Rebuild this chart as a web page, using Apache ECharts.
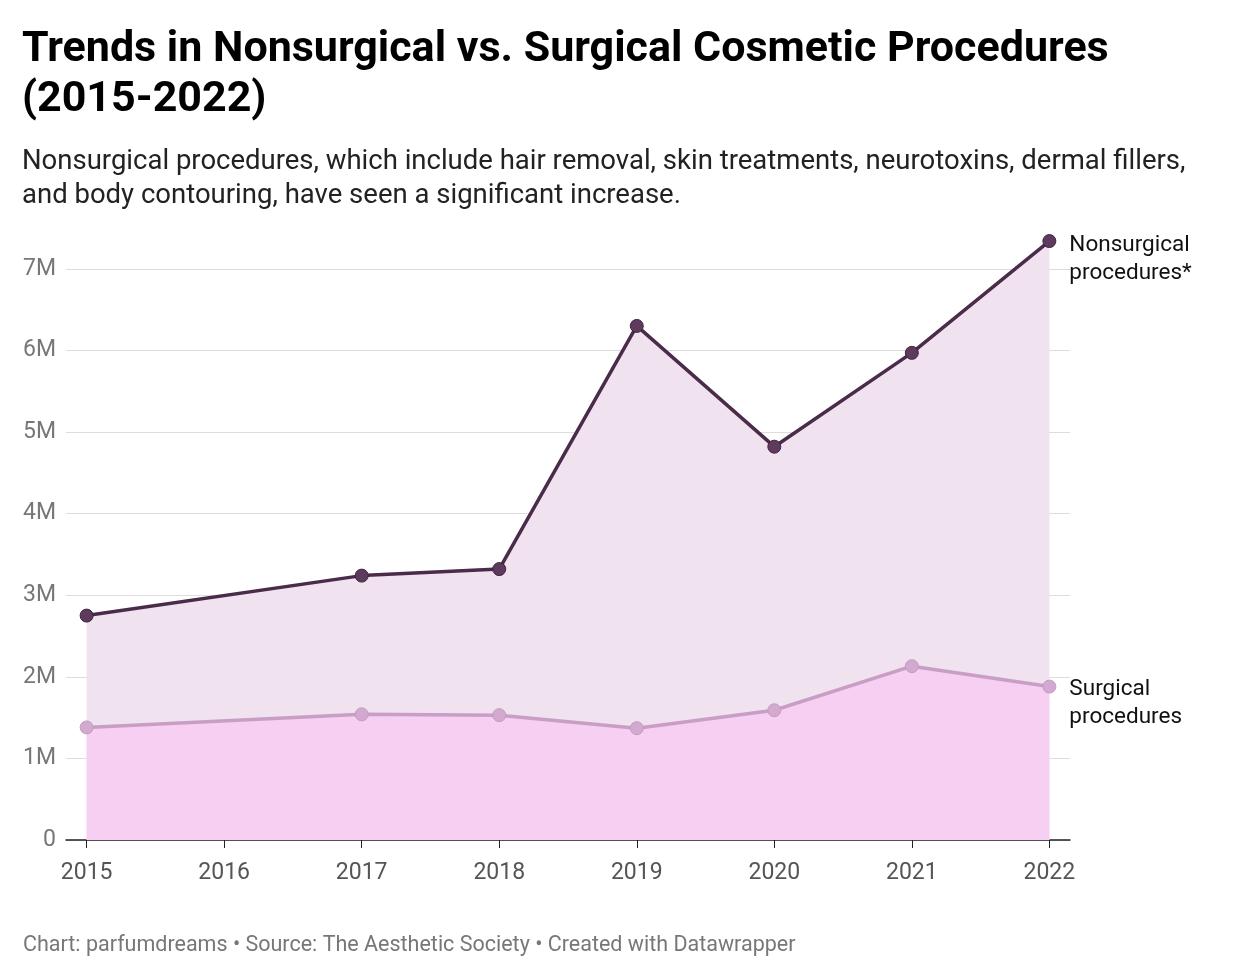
<!DOCTYPE html>
<html><head><meta charset="utf-8">
<script src="https://cdn.jsdelivr.net/npm/echarts@6/dist/echarts.min.js"></script>
<style>body{margin:0;background:#fff}#c{width:1240px;height:976px}</style>
</head><body><div id="c"></div>
<script>
const years = [2015, 2017, 2018, 2019, 2020, 2021, 2022];
const nonsurgical = [2.75, 3.24, 3.32, 6.30, 4.82, 5.97, 7.34];
const surgical = [1.38, 1.54, 1.53, 1.37, 1.59, 2.13, 1.88];
const yearTicks = [2015, 2016, 2017, 2018, 2019, 2020, 2021, 2022];

const F = 'Roboto, "Noto Sans", sans-serif';
const chart = echarts.init(document.getElementById('c'));
const pts = v => years.map((y, i) => [y, v[i] * 1e6]);
chart.setOption({
  animation: false,
  textStyle: { fontFamily: F },
  title: [
    { text: 'Trends in Nonsurgical vs. Surgical Cosmetic Procedures\n(2015-2022)', left: 17, top: 20,
      textStyle: { fontSize: 43, fontWeight: 'bold', color: '#000', lineHeight: 50, fontFamily: F } },
    { text: 'Nonsurgical procedures, which include hair removal, skin treatments, neurotoxins, dermal fillers,\nand body contouring, have seen a significant increase.', left: 17, top: 140,
      textStyle: { fontSize: 27.5, fontWeight: 'normal', color: '#222', lineHeight: 34, fontFamily: F } },
    { text: 'Chart: parfumdreams • Source: The Aesthetic Society • Created with Datawrapper', left: 18, top: 930,
      textStyle: { fontSize: 21.5, fontWeight: 'normal', color: '#777', fontFamily: F } }
  ],
  grid: { left: 66, right: 170, top: 228, bottom: 136 },
  xAxis: {
    type: 'value', min: 2014.85, max: 2022.15,
    axisLine: { lineStyle: { color: '#222', width: 1.5 } },
    axisTick: { show: true, length: 8, lineStyle: { color: '#222' }, customValues: yearTicks },
    axisLabel: { customValues: yearTicks, color: '#555', fontSize: 23, margin: 22, formatter: v => String(v) },
    splitLine: { show: false }
  },
  yAxis: {
    type: 'value', min: 0, max: 7.5e6, interval: 1e6,
    axisLine: { show: false }, axisTick: { show: false },
    axisLabel: { color: '#777', fontSize: 23, margin: 10,
      formatter: v => v === 0 ? '0' : (v / 1e6) + 'M',
      showMaxLabel: false },
    splitLine: { showMaxLine: false, lineStyle: { color: '#ddd', width: 1 } }
  },
  series: [
    { type: 'line', data: pts(nonsurgical), symbol: 'circle', symbolSize: 13, z: 3,
      itemStyle: { color: '#5e3a5c', borderColor: '#3e2340', borderWidth: 1 },
      lineStyle: { color: '#4b2b4a', width: 3.5 },
      areaStyle: { color: '#f0e2ef', opacity: 1 },
      endLabel: { show: true, formatter: 'Nonsurgical\nprocedures*', fontSize: 22.5, color: '#111', lineHeight: 28, offset: [12, 18] } },
    { type: 'line', data: pts(surgical), symbol: 'circle', symbolSize: 13, z: 4,
      itemStyle: { color: '#d2a9cf', borderColor: '#c59bc2', borderWidth: 1 },
      lineStyle: { color: '#c89ec5', width: 3.5 },
      areaStyle: { color: '#f6cff3', opacity: 1 },
      endLabel: { show: true, formatter: 'Surgical\nprocedures', fontSize: 22.5, color: '#111', lineHeight: 28, offset: [12, 17] } }
  ]
});
</script></body></html>
